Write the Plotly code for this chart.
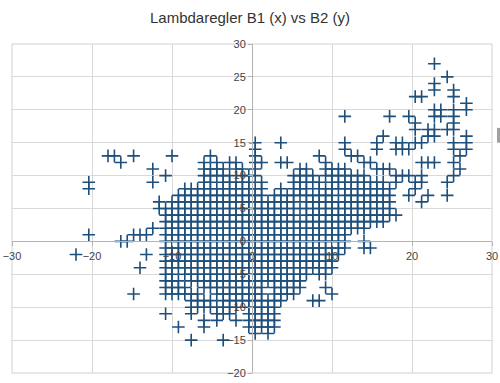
import plotly.graph_objects as go

# Grid on which the data were read: x = X_START + X_STEP * column, y = row key
X_START = -22.0
X_STEP = 0.8

# For each y value: columns where a point appears (single ints or "a-b" ranges)
ROWS = {
    27: "56",
    25: "58",
    24: "56",
    23: "56 59",
    22: "53 54 59",
    21: "61",
    20: "56 57 59 61",
    19: "42 49 52 56 57 59",
    18: "53 59",
    17: "53 55 56 58 59",
    16: "48 55 56 61",
    15: "28 32 42 47 50 51 53 54 59 61",
    14: "28 42 47 50 51 52 59 61",
    13: "5 6 9 15 21 28 38 43 44 60",
    12: "7 20 22 24 25 28 29 32 33 39 45 46 54 55 56 59",
    11: "12 20 21 22 23 25 26 28 35 36 39 40 41 42 47 48 49 60",
    10: "14 20 21 22 23 24 26 27 28 34 35 36 37 39 40 41 42 43 44 45 50 51 52 54 59",
    9: "2 12 20 21 23 24 25 26 27 29 34 35 36 37 38 40 41 42 43 44 45 46 47 48 50 53 54 58",
    8: "2 17-29 32 34-36 38-49 53",
    7: "16-29 31-40 42-49 52 55 58",
    6: "13 15-34 36-49 54",
    5: "13 14 15-49",
    4: "14-34 36-50",
    3: "14-48",
    2: "12 14-45",
    1: "2 9 10 11 14-42",
    0: "7 8 14-42 45",
    -1: "14-42 45 46",
    -2: "0 11 14-41",
    -3: "14-40",
    -4: "10 14-40",
    -5: "14 15 17-36 38 39",
    -6: "14-16 18-35",
    -7: "14-17 20-29 31-35 39",
    -8: "9 14-19 22-29 31-34 40",
    -9: "18-21 23-32 37 38",
    -10: "18-25 27-31",
    -11: "14 18 22 23 24 27-31",
    -12: "20 22 25 27-31",
    -13: "16 20 27-31",
    -14: "28 30",
    -15: "18 23",
}

X_TICKS = [-30, -20, -10, 0, 10, 20, 30]
Y_TICKS = [-20, -15, -10, -5, 0, 5, 10, 15, 20, 25, 30]

xs, ys = [], []
for yv, spec in ROWS.items():
    for tok in spec.split():
        if "-" in tok:
            a, b = tok.split("-")
            cols = range(int(a), int(b) + 1)
        else:
            cols = [int(tok)]
        for c in cols:
            xs.append(round(X_START + X_STEP * c, 3))
            ys.append(yv)

COL = "#1d4f7c"
fig = go.Figure(go.Scatter(
    x=xs, y=ys, mode="markers",
    marker=dict(symbol="cross-thin", size=9, color=COL, line=dict(width=1.6, color=COL)),
    showlegend=False, hoverinfo="skip",
))

axis_common = dict(
    showgrid=True, gridcolor="#d9d9d9", gridwidth=1,
    zeroline=False, showline=True, linecolor="#b3b3b3", linewidth=1,
    ticks="outside", ticklen=4, tickcolor="#b3b3b3",
    tickfont=dict(family="Liberation Sans", size=11, color="#444444"),
    ticklabeloverflow="allow",
    automargin=False, fixedrange=True,
)

W, H = 500, 383
fig.update_layout(
    width=W, height=H,
    margin=dict(l=12, r=8, t=44, b=10, pad=0),
    paper_bgcolor="white", plot_bgcolor="white",
    title=dict(text="Lambdaregler B1 (x) vs B2 (y)", x=0.5, xanchor="center",
               y=1 - 18 / H, yanchor="middle",
               font=dict(family="Liberation Sans", size=15, color="#333333")),
    xaxis=dict(range=[-30, 30], tickvals=X_TICKS, anchor="free", position=0.4, **axis_common),
    yaxis=dict(range=[-20, 30], tickvals=Y_TICKS, anchor="free", position=0.5, **axis_common),
    shapes=[
        dict(type="rect", xref="paper", yref="paper", x0=0, y0=0, x1=1, y1=1,
             line=dict(color="#d0d0d0", width=1), layer="below"),
        dict(type="rect", xref="paper", yref="paper", x0=1.0104, x1=1.022, y0=0.70, y1=0.745,
             line=dict(width=0), fillcolor="#a0a0a0"),
    ],
)

fig.write_html("out.html", config={"displayModeBar": False},
               post_script="document.body.style.margin='0';")
